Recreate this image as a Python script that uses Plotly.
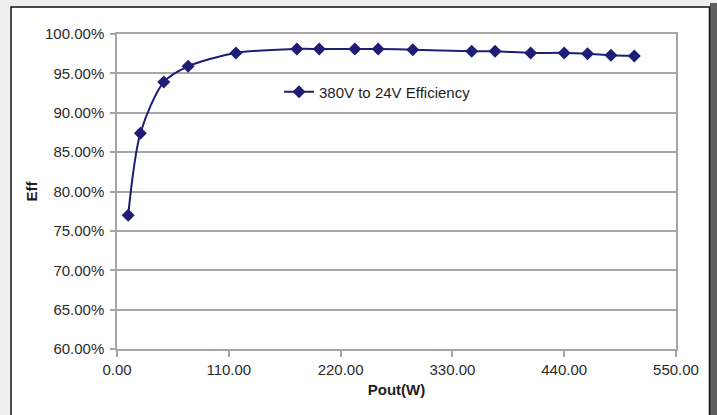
import plotly.graph_objects as go

# Efficiency curve
pout_w = [11, 23, 46, 70, 117, 177, 199, 234, 257, 291, 349, 372, 407, 440, 463, 486, 509]
eff = [0.770, 0.874, 0.939, 0.959, 0.976, 0.981, 0.981, 0.981, 0.981, 0.980,
       0.978, 0.978, 0.976, 0.976, 0.975, 0.973, 0.972]
series_name = '380V to 24V Efficiency'

W, H = 717, 415
L, R, T, B = 117, 41, 34, 66
pw, ph = W - L - R, H - T - B


def px_x(p):
    return (p - L) / pw


def px_y(p):
    return (H - B - p) / ph


navy = '#1e1e76'
grid = '#a6a6a6'
font = 'Arial, Liberation Sans, sans-serif'

fig = go.Figure()

fig.add_trace(go.Scatter(
    x=pout_w, y=eff,
    name=series_name,
    mode='lines+markers',
    line=dict(color=navy, width=2, shape='spline', smoothing=0.8),
    marker=dict(symbol='diamond', size=10, color=navy),
    showlegend=True
))

# white chart frame with black border, gray page and right shadow
fig.add_shape(type='rect', xref='paper', yref='paper', layer='below',
              x0=px_x(710), x1=px_x(717), y0=px_y(3), y1=px_y(430),
              fillcolor='#5e5e5e', line=dict(width=0))
fig.add_shape(type='rect', xref='paper', yref='paper', layer='below',
              x0=px_x(11), x1=px_x(709.5), y0=px_y(7), y1=px_y(430),
              fillcolor='white', line=dict(color='#111111', width=1.5))

fig.update_layout(
    width=W, height=H,
    margin=dict(l=L, r=R, t=T, b=B),
    paper_bgcolor='#efefef',
    plot_bgcolor='white',
    font=dict(family=font, size=15, color='#2b2b2b'),
    legend=dict(x=px_x(279), y=px_y(92), xanchor='left', yanchor='middle',
                bgcolor='rgba(0,0,0,0)', font=dict(size=15, color='#1e1e1e')),
)

fig.update_xaxes(
    range=[0, 550], dtick=110, tick0=0, tickformat='.2f',
    showgrid=False, zeroline=False,
    showline=True, linecolor=grid, linewidth=1.5, mirror=True,
    ticks='outside', ticklen=6, tickcolor=grid, tickwidth=1.5,
    title=dict(text='<b>Pout(W)</b>', font=dict(size=15, color='#1e1e1e'), standoff=8),
)

fig.update_yaxes(
    range=[0.6, 1.0], dtick=0.05, tick0=0.6, tickformat='.2%',
    showgrid=True, gridcolor=grid, gridwidth=1.5, zeroline=False,
    showline=True, linecolor=grid, linewidth=1.5, mirror=True,
    ticks='outside', ticklen=5, tickcolor=grid, tickwidth=1.5,
    ticklabelstandoff=3,
    title=dict(text='<b>Eff</b>', font=dict(size=15, color='#1e1e1e'), standoff=4),
)

# drop the default 8px page margin so the figure sits at the window corner
fig.write_html('out.html', config={'displayModeBar': False},
               post_script="document.body.style.margin='0';")
